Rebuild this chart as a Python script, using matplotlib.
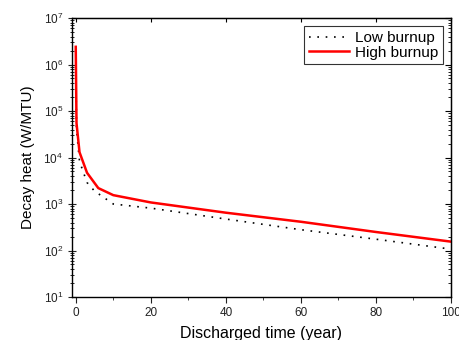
import matplotlib
matplotlib.use('Agg')
import matplotlib.pyplot as plt
from matplotlib.ticker import LogLocator, MultipleLocator, NullFormatter

plt.rcParams['font.family'] = 'Liberation Sans'

# discharged time (year) and decay heat (W/MTU)
t_low = [0, 0.2, 1, 3, 5, 10, 20, 40, 60, 80, 100]
heat_low = [2.0e6, 4.0e4, 8.3e3, 2.9e3, 1.9e3, 1.0e3, 815, 475, 280, 175, 107]

t_high = [0, 0.2, 1, 3, 6, 10, 20, 40, 60, 80, 100]
heat_high = [2.4e6, 5.5e4, 1.3e4, 4.7e3, 2.2e3, 1.55e3, 1.08e3, 650, 415, 250, 155]

fig = plt.figure(figsize=(4.59, 3.40), dpi=100)
ax = fig.add_axes([72 / 459, 1 - 297 / 340, 379 / 459, 279 / 340])

ax.plot(t_low, heat_low, color='black', linestyle=(0, (1, 4)), linewidth=1.2, label='Low burnup')
ax.plot(t_high, heat_high, color='red', linewidth=1.8, label='High burnup')

ax.set_yscale('log')
ax.set_xlim(-1, 100)
ax.set_ylim(10, 1e7)
ax.xaxis.set_major_locator(MultipleLocator(20))
ax.xaxis.set_minor_locator(MultipleLocator(10))
ax.yaxis.set_major_locator(LogLocator(base=10, numticks=10))
ax.yaxis.set_minor_locator(LogLocator(base=10, subs=range(2, 10), numticks=10))
ax.yaxis.set_minor_formatter(NullFormatter())

ax.tick_params(axis='x', which='both', direction='out', labelsize=8.5, colors='#222222')
ax.tick_params(axis='x', which='major', length=4)
ax.tick_params(axis='x', which='minor', length=2.5)
ax.tick_params(axis='y', which='major', direction='inout', length=6, labelsize=8.5, colors='#222222')
ax.tick_params(axis='y', which='minor', direction='inout', length=3)
for s in ax.spines.values():
    s.set_linewidth(1.0)

# inward ticks on top and right, no labels
top = ax.secondary_xaxis('top')
top.xaxis.set_major_locator(MultipleLocator(20))
top.tick_params(direction='in', length=3, labeltop=False)
right = ax.secondary_yaxis('right')
right.yaxis.set_major_locator(LogLocator(base=10, numticks=10))
right.yaxis.set_minor_locator(LogLocator(base=10, subs=range(2, 10), numticks=10))
right.tick_params(which='major', direction='in', length=4, labelright=False)
right.tick_params(which='minor', direction='in', length=2, labelright=False)

ax.set_xlabel('Discharged time (year)', fontsize=11.5, labelpad=5)
ax.set_ylabel('Decay heat (W/MTU)', fontsize=11, labelpad=6)

leg = ax.legend(loc='upper right', fontsize=11, frameon=True, fancybox=False,
                edgecolor='black', handlelength=2.6, borderaxespad=0.55,
                borderpad=0.3, labelspacing=0.05, handletextpad=0.4)
leg.get_frame().set_linewidth(0.8)

fig.savefig('out.png', dpi=100)
